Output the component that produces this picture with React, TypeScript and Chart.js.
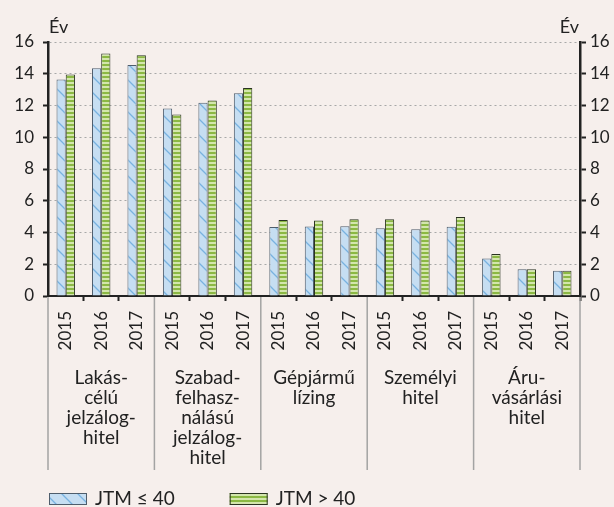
import React, { useEffect, useRef } from 'react';
import { Chart, registerables } from 'chart.js';

Chart.register(...registerables);

const years = [
  '2015', '2016', '2017',
  '2015', '2016', '2017',
  '2015', '2016', '2017',
  '2015', '2016', '2017',
  '2015', '2016', '2017',
];

const groupLabels = [
  ['Lakás-', 'célú', 'jelzálog-', 'hitel'],
  ['Szabad-', 'felhasz-', 'nálású', 'jelzálog-', 'hitel'],
  ['Gépjármű', 'lízing'],
  ['Személyi', 'hitel'],
  ['Áru-', 'vásárlási', 'hitel'],
];

const seriesNames = ['JTM ≤ 40', 'JTM > 40'];

const lowDti = [13.63, 14.34, 14.55, 11.81, 12.18, 12.77, 4.34, 4.38, 4.4, 4.26, 4.21, 4.36, 2.37, 1.68, 1.59];
const highDti = [13.96, 15.27, 15.16, 11.43, 12.31, 13.1, 4.78, 4.76, 4.84, 4.84, 4.76, 4.97, 2.64, 1.68, 1.59];

const yMin = 0;
const yMax = 16;
const yStep = 2;
const unitLabel = 'Év';

const BG = '#F6EFEC';
const TEXT = '#222222';
const FONT = 'Lato';

function makeBluePattern(ctx: CanvasRenderingContext2D): CanvasPattern | string {
  const c = document.createElement('canvas');
  const s = 16;
  c.width = s;
  c.height = s;
  const g = c.getContext('2d');
  if (!g) return '#C6DEF2';
  g.fillStyle = '#C6DEF2';
  g.fillRect(0, 0, s, s);
  g.strokeStyle = '#78B2E0';
  g.lineWidth = 1.3;
  g.beginPath();
  g.moveTo(-2, -2);
  g.lineTo(s + 2, s + 2);
  g.moveTo(-2 - s, -2);
  g.lineTo(2, s + 2);
  g.moveTo(s - 2, -2);
  g.lineTo(2 * s + 2, s + 2);
  g.stroke();
  return ctx.createPattern(c, 'repeat') || '#C6DEF2';
}

function makeGreenPattern(ctx: CanvasRenderingContext2D): CanvasPattern | string {
  const c = document.createElement('canvas');
  c.width = 4;
  c.height = 4;
  const g = c.getContext('2d');
  if (!g) return '#8DB944';
  g.fillStyle = '#8BB843';
  g.fillRect(0, 0, 4, 4);
  g.fillStyle = '#D3E6AC';
  g.fillRect(0, 2, 4, 2);
  return ctx.createPattern(c, 'repeat') || '#8DB944';
}

const decorPlugin = {
  id: 'decor',
  afterDraw(chart: any) {
    const { ctx, chartArea, scales } = chart;
    const xs = scales.x;
    const grp = scales.group;
    const step = xs.width / years.length;
    ctx.save();
    // group separators
    ctx.strokeStyle = '#A3A3A3';
    ctx.lineWidth = 1.5;
    for (let i = 0; i <= years.length; i += 3) {
      const px = xs.left + i * step;
      ctx.beginPath();
      ctx.moveTo(px, chartArea.bottom + 1);
      ctx.lineTo(px, grp.bottom);
      ctx.stroke();
    }
    // unit labels
    ctx.fillStyle = TEXT;
    ctx.font = `18px ${FONT}`;
    ctx.textBaseline = 'middle';
    ctx.textAlign = 'left';
    ctx.fillText(unitLabel, scales.y.right + 1, chartArea.top - 15);
    ctx.textAlign = 'right';
    ctx.fillText(unitLabel, scales.y2.left - 1, chartArea.top - 15);

    // legend
    const boxW = 38;
    const boxH = 12;
    const yc = grp.bottom + 29;
    let x = xs.left + 1;
    ctx.font = `19px ${FONT}`;
    ctx.textAlign = 'left';
    chart.data.datasets.forEach((ds: any) => {
      ctx.fillStyle = ds.backgroundColor;
      ctx.fillRect(x, yc - boxH / 2, boxW, boxH);
      ctx.strokeStyle = ds.borderColor;
      ctx.lineWidth = 1;
      ctx.strokeRect(x + 0.5, yc - boxH / 2 + 0.5, boxW - 1, boxH - 1);
      ctx.fillStyle = TEXT;
      ctx.fillText(ds.label, x + boxW + 8, yc);
      x += boxW + 8 + ctx.measureText(ds.label).width + 55;
    });
    ctx.restore();
  },
};

export default function App() {
  const ref = useRef<HTMLCanvasElement | null>(null);

  useEffect(() => {
    const canvas = ref.current;
    if (!canvas) return;
    const ctx = canvas.getContext('2d');
    if (!ctx) return;
    const blue = makeBluePattern(ctx);
    const green = makeGreenPattern(ctx);

    const yCommon = {
      min: yMin,
      max: yMax,
      ticks: {
        stepSize: yStep,
        color: TEXT,
        font: { family: FONT, size: 17 },
      },
    };

    const chart = new Chart(ctx, {
      type: 'bar',
      data: {
        labels: years,
        datasets: [
          {
            label: seriesNames[0],
            data: lowDti,
            backgroundColor: blue as any,
            borderColor: '#4E5D6C',
            borderWidth: 1,
            borderSkipped: 'start',
            xAxisID: 'x',
            yAxisID: 'y',
          },
          {
            label: seriesNames[1],
            data: highDti,
            backgroundColor: green as any,
            borderColor: '#2A3320',
            borderWidth: 1,
            borderSkipped: 'start',
            xAxisID: 'x',
            yAxisID: 'y',
          },
        ],
      },
      options: {
        animation: false,
        responsive: true,
        maintainAspectRatio: false,
        categoryPercentage: 0.52,
        barPercentage: 1,
        layout: { padding: { top: 42, left: 0, right: 0, bottom: 37 } },
        plugins: {
          tooltip: { enabled: false },
          title: { display: false },
          legend: { display: false },
        },
        scales: {
          x: {
            type: 'category',
            position: 'bottom',
            offset: true,
            weight: 0,
            grid: {
              display: true,
              offset: true,
              drawOnChartArea: false,
              drawTicks: true,
              tickLength: 5,
              tickWidth: 2,
              tickBorderDash: [],
              tickColor: (c: any) => (c.index % 3 === 0 ? 'rgba(0,0,0,0)' : '#222222'),
            },
            border: { display: true, color: '#222222', width: 2 },
            ticks: {
              autoSkip: false,
              minRotation: 90,
              maxRotation: 90,
              padding: 10,
              color: TEXT,
              font: { family: FONT, size: 17 },
            },
            afterFit: (s: any) => {
              s.height = 62;
            },
          },
          group: {
            type: 'category',
            axis: 'x',
            position: 'bottom',
            offset: true,
            weight: 1,
            labels: groupLabels as any,
            grid: { display: false, drawTicks: false },
            border: { display: false },
            ticks: {
              autoSkip: false,
              maxRotation: 0,
              minRotation: 0,
              padding: 10,
              color: TEXT,
              font: { family: FONT, size: 19, lineHeight: 20 / 19 },
            },
            afterFit: (s: any) => {
              s.height = 112;
            },
          },
          y: {
            ...yCommon,
            type: 'linear',
            position: 'left',
            grid: {
              display: true,
              drawOnChartArea: true,
              color: '#A8A8A8',
              lineWidth: 1,
              drawTicks: true,
              tickLength: 5,
              tickWidth: 2,
              tickColor: '#222222',
              tickBorderDash: [],
            },
            border: { display: true, color: '#222222', width: 2.5, dash: [2, 3] },
            ticks: { ...yCommon.ticks, padding: 9 },
            afterFit: (s: any) => {
              s.width = 48;
            },
          },
          y2: {
            ...yCommon,
            type: 'linear',
            position: 'right',
            grid: {
              display: true,
              drawOnChartArea: false,
              drawTicks: true,
              tickLength: 6,
              tickWidth: 2,
              tickColor: '#222222',
              tickBorderDash: [],
            },
            border: { display: true, color: '#222222', width: 2.5 },
            ticks: { ...yCommon.ticks, padding: 4 },
            afterFit: (s: any) => {
              s.width = 34;
            },
          },
        },
      } as any,
      plugins: [decorPlugin],
    });

    return () => {
      chart.destroy();
    };
  }, []);

  return (
    <div
      style={{
        position: 'absolute',
        left: 0,
        top: 0,
        width: 614,
        height: 507,
        background: BG,
      }}
    >
      <canvas ref={ref} />
    </div>
  );
}
